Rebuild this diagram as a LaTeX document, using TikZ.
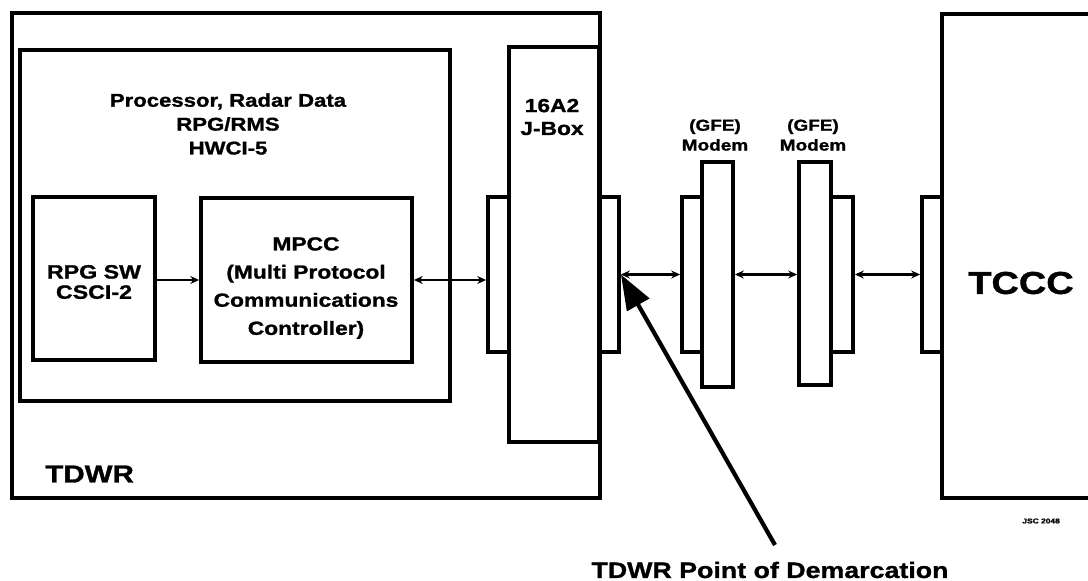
\documentclass[tikz,border=0pt]{standalone}
\usepackage{fontspec}
\setmainfont{Liberation Sans}[FakeStretch=1.2, BoldFeatures={FakeBold=1.2}]
\usepackage{tikz}
\usetikzlibrary{arrows.meta,positioning}

\begin{document}
\begin{tikzpicture}[x=0.02cm, y=-0.02cm,
    box/.style={rectangle, draw, line width=2.2pt, inner sep=0pt},
    txt/.style={font=\bfseries\fontsize{11}{13}\selectfont, align=center, inner sep=0pt},
    link/.style={line width=1.6pt, {Stealth[length=5pt,width=4.5pt]}-{Stealth[length=5pt,width=4.5pt]}},
    feed/.style={line width=1.6pt, -{Stealth[length=5pt,width=4.5pt]}},
    pointer/.style={line width=2.4pt, -{Triangle[length=0.7cm,width=0.5cm]}}
]
    \useasboundingbox (0,0) rectangle (1088,581);

    % TDWR side
    \node[box, minimum width=11.76cm, minimum height=9.7cm] (tdwr) at (306,255.5) {};
    \node[box, minimum width=8.6cm, minimum height=7.02cm] (rpgp) at (235,225.5) {};
    \node[box, minimum width=2.44cm, minimum height=3.26cm] (rpgsw) at (94,278.5) {};
    \node[box, minimum width=4.22cm, minimum height=3.28cm] (mpcc) at (306.5,280) {};
    \node[box, fill=white, minimum width=1.8cm, minimum height=7.9cm] (jbox) at (554,244.5) {};
    \node[box, minimum width=0.42cm, minimum height=3.1cm] (jl) at (498.5,274.5) {};
    \node[box, minimum width=0.4cm, minimum height=3.1cm] (jr) at (609,274.5) {};

    % Modems
    \node[box, minimum width=0.4cm, minimum height=3.1cm] (mac) at (692,274.5) {};
    \node[box, minimum width=0.62cm, minimum height=4.5cm] (ma) at (717.5,274.5) {};
    \node[box, minimum width=0.64cm, minimum height=4.46cm] (mb) at (815,273.5) {};
    \node[box, minimum width=0.44cm, minimum height=3.1cm] (mbc) at (842,274.5) {};

    % TCCC side
    \node[box, minimum width=0.4cm, minimum height=3.1cm] (tc) at (932,274.5) {};
    \node[box, minimum width=3.16cm, minimum height=9.68cm] (tccc) at (1021,256) {};

    % Labels
    \node[txt, font=\bfseries\fontsize{10.5}{13.6}\selectfont] (rpgpt) at (228,124) {Processor, Radar Data\\RPG/RMS\\HWCI-5};
    \node[txt, font=\bfseries\fontsize{11}{11.5}\selectfont] (rpgswt) at (94,282) {RPG SW\\CSCI-2};
    \node[txt, font=\bfseries\fontsize{10.8}{16}\selectfont] (mpcct) at (306,288) {MPCC\\(Multi Protocol\\Communications\\Controller)};
    \node[txt, font=\bfseries\fontsize{10.8}{13}\selectfont] (jboxt) at (552,117) {16A2\\J-Box};
    \node[txt, font=\bfseries\fontsize{9}{11.3}\selectfont] (mal) at (715,135) {(GFE)\\Modem};
    \node[txt, font=\bfseries\fontsize{9}{11.3}\selectfont] (mbl) at (813,135) {(GFE)\\Modem};
    \node[txt, anchor=west, font=\bfseries\fontsize{14}{16}\selectfont] (tdwrl) at (45,474) {TDWR};
    \node[txt, font=\bfseries\fontsize{18}{20}\selectfont] (tcccl) at (1021,283) {TCCC};
    \node[txt, font=\bfseries\fontsize{12.7}{14}\selectfont] (podl) at (770,570) {TDWR Point of Demarcation};
    \node[txt, anchor=west, font=\bfseries\fontsize{4}{5}\selectfont] (figid) at (1022,521) {JSC 2048};

    % Connections
    \draw[feed] (rpgsw.east |- mpcc.west) -- (mpcc.west);
    \draw[link] (mpcc.east) -- (mpcc.east -| jl.west);
    \draw[link] (jr.east) -- (mac.west);
    \draw[link] (ma.east |- jr.east) -- (mb.west |- jr.east);
    \draw[link] (mbc.east) -- (tc.west);

    % Demarcation pointer
    \coordinate (podt) at (775,545);
    \draw[pointer] (podt) -- (jr.east);
\end{tikzpicture}
\end{document}
